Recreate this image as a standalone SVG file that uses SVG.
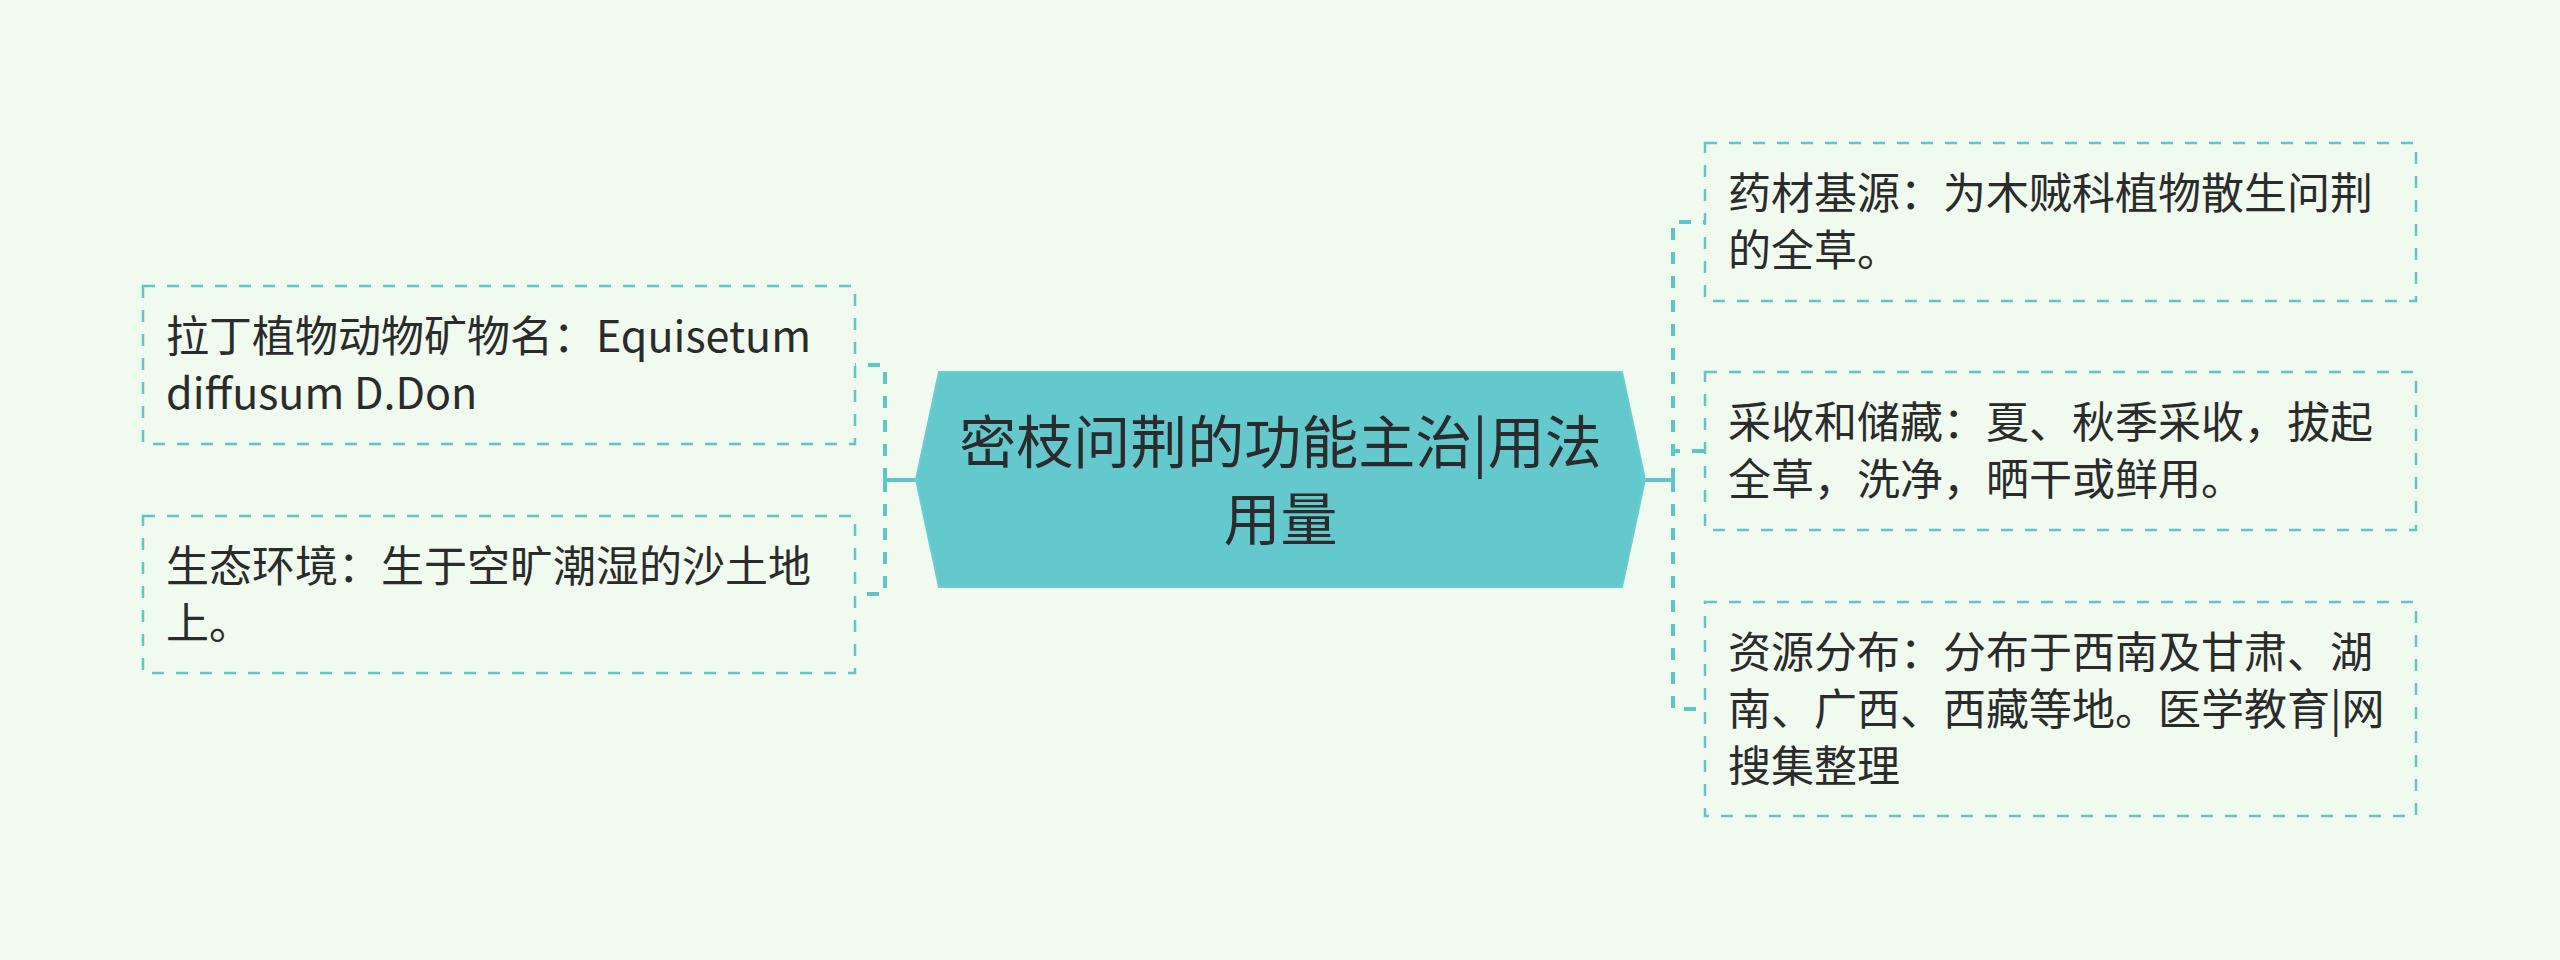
<svg xmlns="http://www.w3.org/2000/svg" width="2560" height="960" viewBox="0 0 2560 960">
<style>
.bg{fill:#F0FAEF}
.box{fill:#F0FAEF;stroke:#62C4C8;stroke-width:2.5;stroke-dasharray:12 12}
.center{fill:#63C9CC;stroke:#6CCDD0;stroke-width:2}
.t{font-family:"Noto Sans CJK SC","Noto Sans",sans-serif;font-size:43px;fill:#2B2B2B}
.ct{font-family:"Noto Sans CJK SC","Noto Sans",sans-serif;font-size:57px;fill:#2B2B2B;text-anchor:middle}
.dash{fill:none;stroke:#5EC5C9;stroke-width:4;stroke-dasharray:12 12}
.solid{fill:none;stroke:#5EC5C9;stroke-width:4}
</style>
<rect class="bg" x="0" y="0" width="2560" height="960"/>
<g id="connectors">
<path class="solid" d="M916 480 H885"/>
<path class="dash" d="M885 480 V365 H855"/>
<path class="dash" d="M885 480 V594 H855"/>
<path class="solid" d="M1645 480 H1673"/>
<path class="dash" d="M1673 480 V222 H1705"/>
<path class="dash" d="M1673 480 V451 H1705"/>
<path class="dash" d="M1673 480 V709 H1705"/>
</g>
<g id="center">
<polygon class="center" points="939,372 1622,372 1645,479.5 1622,587 939,587 916,479.5"/>
<text class="ct" x="1280.5" y="463">密枝问荆的功能主治|用法</text>
<text class="ct" x="1280.5" y="540">用量</text>
</g>
<g id="latin-name">
<rect class="box" x="143" y="286" width="712" height="158"/>
<text class="t" x="166" y="352">拉丁植物动物矿物名：Equisetum</text>
<text class="t" x="166" y="409">diffusum D.Don</text>
</g>
<g id="habitat">
<rect class="box" x="143" y="516" width="712" height="157"/>
<text class="t" x="166" y="582">生态环境：生于空旷潮湿的沙土地</text>
<text class="t" x="166" y="639">上。</text>
</g>
<g id="source">
<rect class="box" x="1705" y="143" width="711" height="158"/>
<text class="t" x="1728" y="209">药材基源：为木贼科植物散生问荆</text>
<text class="t" x="1728" y="266">的全草。</text>
</g>
<g id="harvest">
<rect class="box" x="1705" y="372" width="711" height="158"/>
<text class="t" x="1728" y="438">采收和储藏：夏、秋季采收，拔起</text>
<text class="t" x="1728" y="495">全草，洗净，晒干或鲜用。</text>
</g>
<g id="distribution">
<rect class="box" x="1705" y="602" width="711" height="214"/>
<text class="t" x="1728" y="668">资源分布：分布于西南及甘肃、湖</text>
<text class="t" x="1728" y="725">南、广西、西藏等地。医学教育|网</text>
<text class="t" x="1728" y="782">搜集整理</text>
</g>
</svg>
